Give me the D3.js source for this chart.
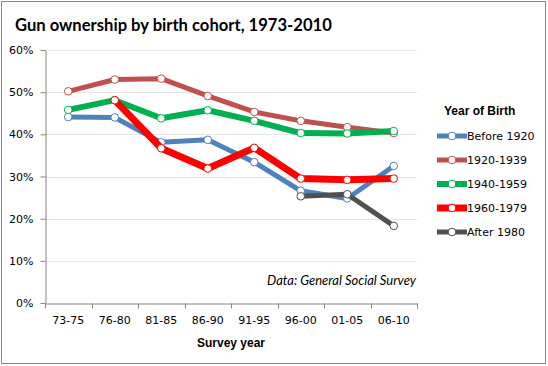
<!DOCTYPE html>
<html>
<head>
<meta charset="utf-8">
<script src="https://cdn.jsdelivr.net/npm/d3@7"></script>
<style>
  body { margin: 0; background: #fff; }
  svg text { fill: #000; }
</style>
</head>
<body>
<div id="chart"></div>
<script>
  /**
   * Data
   */
  var periods = ["73-75", "76-80", "81-85", "86-90", "91-95", "96-00", "01-05", "06-10"];
  var yTicks = [0, 0.1, 0.2, 0.3, 0.4, 0.5, 0.6];
  var cohorts = ["Before 1920", "1920-1939", "1940-1959", "1960-1979", "After 1980"];
  var before1920 = [44.1, 44.0, 38.1, 38.7, 33.4, 26.6, 24.8, 32.5];
  var c1920 = [50.2, 53.0, 53.2, 49.1, 45.3, 43.2, 41.7, 40.3];
  var c1940 = [45.8, 48.1, 43.8, 45.7, 43.2, 40.3, 40.2, 40.8];
  var c1960 = [null, 48.1, 36.7, 31.9, 36.8, 29.5, 29.2, 29.5];
  var after1980 = [null, null, null, null, null, 25.3, 25.8, 18.3];
  var colors = ["#4f81bd", "#c0504d", "#00b050", "#ff0000", "#505050"];
  var widths = [5, 5, 6, 7, 5];

  var allSeries = [before1920, c1920, c1940, c1960, after1980];

  /**
   * Settings
   */
  var W = 548, H = 366;
  var margin = {top: 50, right: 131, bottom: 63, left: 45};
  var width = W - margin.left - margin.right,
    height = H - margin.top - margin.bottom;

  var x = d3.scaleBand().domain(periods).range([0, width]);
  var y = d3.scaleLinear().domain([0, 0.6]).range([height, 0]);

  var svg = d3.select("#chart").append("svg")
    .attr("width", W)
    .attr("height", H);

  // outer border
  svg.append("rect")
    .attr("x", 1.5).attr("y", 1.5)
    .attr("width", W - 4).attr("height", H - 4)
    .attr("fill", "#fff")
    .attr("stroke", "#888")
    .attr("stroke-width", 1);

  svg.append("text")
    .attr("x", 15).attr("y", 31)
    .style("font-family", "Lato, 'Open Sans', sans-serif")
    .style("font-weight", "bold")
    .style("font-size", "16.6px")
    .text("Gun ownership by birth cohort, 1973-2010");

  var g = svg.append("g")
    .attr("transform", "translate(" + margin.left + "," + margin.top + ")");

  // gridlines
  g.append("g")
    .selectAll("line")
    .data(yTicks.slice(1))
    .enter().append("line")
    .attr("x1", 0).attr("x2", width)
    .attr("y1", function (d) { return Math.round(y(d)) + 0.5; })
    .attr("y2", function (d) { return Math.round(y(d)) + 0.5; })
    .attr("stroke", "#e6e6e6");

  // y axis
  var yAxis = g.append("g")
    .attr("transform", "translate(0.5,0)")
    .call(d3.axisLeft(y).tickValues(yTicks).tickFormat(d3.format(".0%")).tickSize(5).tickSizeOuter(0));
  yAxis.select(".domain").attr("stroke", "#868686");
  yAxis.selectAll(".tick line").attr("stroke", "#868686");
  yAxis.selectAll("text")
    .attr("x", -12)
    .style("font-family", "'DejaVu Sans', sans-serif")
    .style("font-size", "11px");

  // x axis
  var xAxis = g.append("g")
    .attr("transform", "translate(0," + (Math.round(height) + 0.5) + ")")
    .call(d3.axisBottom(x).tickSize(0).tickSizeOuter(0));
  xAxis.select(".domain").attr("stroke", "#868686");
  xAxis.selectAll("text")
    .attr("y", 13)
    .style("font-family", "'DejaVu Sans', sans-serif")
    .style("font-size", "11px");
  // tick marks at category boundaries
  xAxis.append("g")
    .selectAll("line")
    .data(d3.range(periods.length + 1))
    .enter().append("line")
    .attr("x1", function (i) { return Math.round(i * x.step()) + 0.5; })
    .attr("x2", function (i) { return Math.round(i * x.step()) + 0.5; })
    .attr("y1", 0).attr("y2", 5)
    .attr("stroke", "#868686");

  g.append("text")
    .attr("x", width / 2).attr("y", height + 44)
    .attr("text-anchor", "middle")
    .style("font-family", "'Liberation Sans', sans-serif")
    .style("font-weight", "bold")
    .style("font-size", "12px")
    .text("Survey year");

  g.append("text")
    .attr("x", width - 1).attr("y", height - 18)
    .attr("text-anchor", "end")
    .style("font-family", "Lato, sans-serif")
    .style("font-style", "italic")
    .style("font-size", "13px")
    .text("Data: General Social Survey");

  // lines
  var line = d3.line()
    .defined(function (d) { return d != null; })
    .x(function (d, i) { return x(periods[i]) + x.bandwidth() / 2; })
    .y(function (d) { return y(d / 100); });

  allSeries.forEach(function (s, k) {
    var sg = g.append("g");
    sg.append("path")
      .datum(s)
      .attr("d", line)
      .attr("fill", "none")
      .attr("stroke", colors[k])
      .attr("stroke-width", widths[k])
      .attr("stroke-linejoin", "round");
    sg.selectAll("circle")
      .data(s.map(function (v, i) { return {v: v, i: i}; }).filter(function (d) { return d.v != null; }))
      .enter().append("circle")
      .attr("cx", function (d) { return x(periods[d.i]) + x.bandwidth() / 2; })
      .attr("cy", function (d) { return y(d.v / 100); })
      .attr("r", 3.8)
      .attr("fill", "#fff")
      .attr("stroke", colors[k])
      .attr("stroke-width", 1);
  });

  // legend
  var legend = svg.append("g").attr("transform", "translate(437,0)");
  legend.append("text")
    .attr("x", 7).attr("y", 115)
    .style("font-family", "'Liberation Sans', sans-serif")
    .style("font-weight", "bold")
    .style("font-size", "12px")
    .text("Year of Birth");
  var item = legend.selectAll(".item")
    .data(cohorts)
    .enter().append("g")
    .attr("class", "item")
    .attr("transform", function (d, i) { return "translate(0," + (136 + i * 24) + ")"; });
  item.append("line")
    .attr("x1", 0).attr("x2", 30)
    .attr("stroke", function (d, i) { return colors[i]; })
    .attr("stroke-width", function (d, i) { return widths[i]; });
  item.append("circle")
    .attr("cx", 15).attr("r", 3.8)
    .attr("fill", "#fff")
    .attr("stroke", function (d, i) { return colors[i]; });
  item.append("text")
    .attr("x", 30).attr("y", 4)
    .style("font-family", "'DejaVu Sans', sans-serif")
    .style("font-size", "11px")
    .text(function (d) { return d; });
</script>
</body>
</html>
